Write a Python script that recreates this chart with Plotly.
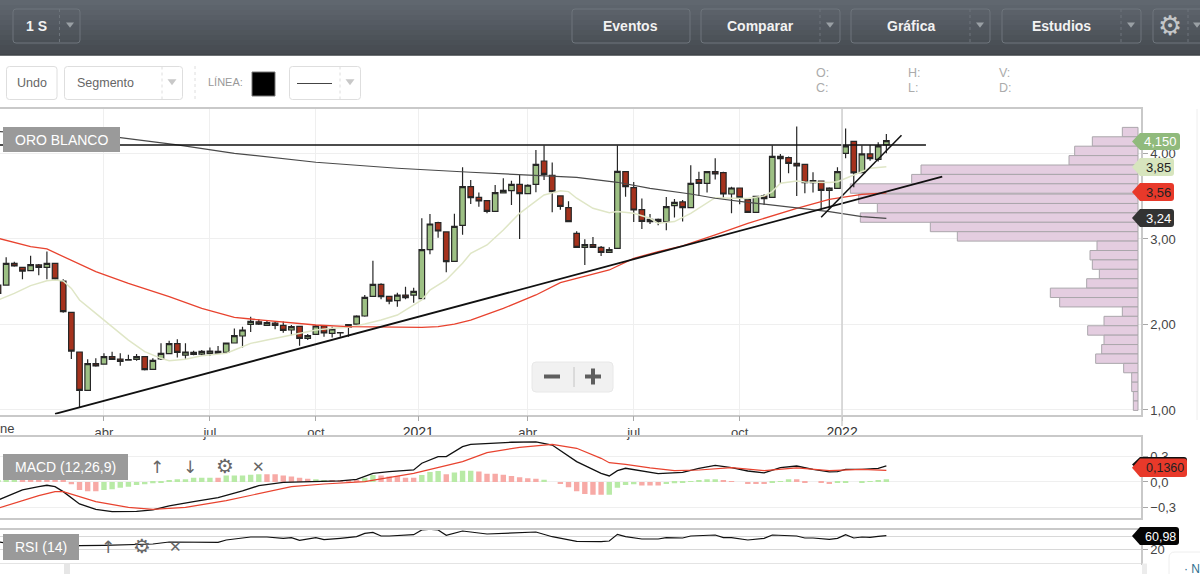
import pandas as pd
import plotly.graph_objects as go

W, H = 1200, 574

# weekly candles
opens = [2.461, 2.461, 2.715, 2.668, 2.629, 2.696, 2.668, 2.715, 2.508, 2.142,
         1.678, 1.229, 1.541, 1.537, 1.623, 1.596, 1.588, 1.592, 1.623, 1.475,
         1.596, 1.658, 1.775, 1.642, 1.674, 1.654, 1.658, 1.685, 1.674, 1.783,
         1.865, 2.001, 2.032, 1.99, 2.017, 1.99, 1.935, 1.978, 1.838, 1.884,
         1.982, 1.896, 1.904, 1.966, 2.005, 2.099, 2.329, 2.469, 2.329, 2.278,
         2.344, 2.344, 2.302, 2.875, 3.191, 3.082, 2.738, 3.16, 3.612, 3.487,
         3.448, 3.323, 3.538, 3.565, 3.639, 3.53, 3.639, 3.912, 3.745, 3.503,
         3.366, 3.066, 2.902, 2.933, 2.902, 2.844, 2.89, 3.787, 3.6, 3.343,
         3.203, 3.23, 3.203, 3.39, 3.433, 3.366, 3.694, 3.651, 3.787, 3.776,
         3.526, 3.596, 3.46, 3.312, 3.503, 3.487, 3.967, 3.951, 3.885, 3.873,
         3.659, 3.678, 3.569, 3.592, 4.002, 4.142, 3.776, 3.994, 3.932, 4.1]
highs = [2.52, 2.785, 2.734, 2.676, 2.805, 2.707, 2.852, 2.715, 2.528, 2.142,
         1.682, 1.592, 1.604, 1.662, 1.682, 1.662, 1.646, 1.654, 1.631, 1.604,
         1.779, 1.81, 1.826, 1.779, 1.693, 1.701, 1.732, 1.748, 1.787, 1.954,
         1.974, 2.091, 2.06, 2.04, 2.032, 2.036, 1.994, 1.986, 1.888, 1.994,
         1.994, 1.974, 1.912, 2.005, 2.107, 2.344, 2.746, 2.481, 2.337, 2.372,
         2.442, 2.43, 3.242, 3.292, 3.202, 3.086, 3.296, 3.838, 3.69, 3.542,
         3.456, 3.632, 3.71, 3.682, 3.748, 3.639, 4.041, 4.092, 3.893, 3.507,
         3.44, 3.089, 2.996, 3.023, 2.918, 2.902, 4.092, 3.791, 3.667, 3.472,
         3.292, 3.238, 3.491, 3.468, 3.456, 3.862, 3.787, 3.787, 3.944, 3.787,
         3.612, 3.6, 3.472, 3.503, 3.522, 4.092, 3.994, 3.963, 4.314, 3.873,
         3.78, 3.682, 3.604, 3.838, 4.291, 4.146, 4.092, 4.1, 4.131, 4.228]
lows = [2.306, 2.461, 2.676, 2.528, 2.629, 2.575, 2.528, 2.508, 2.138, 1.596,
        1.03, 1.229, 1.506, 1.533, 1.592, 1.518, 1.576, 1.576, 1.463, 1.471,
        1.584, 1.654, 1.615, 1.6, 1.639, 1.635, 1.631, 1.654, 1.67, 1.779,
        1.732, 1.912, 1.994, 1.986, 1.943, 1.904, 1.873, 1.752, 1.818, 1.876,
        1.857, 1.849, 1.857, 1.857, 1.997, 2.091, 2.325, 2.294, 2.235, 2.208,
        2.294, 2.255, 2.302, 2.82, 3.015, 2.61, 2.735, 3.05, 3.409, 3.378,
        3.3, 3.32, 3.534, 3.398, 3.0, 3.526, 3.546, 3.69, 3.312, 3.343,
        3.2, 2.898, 2.696, 2.898, 2.801, 2.84, 2.887, 3.495, 3.199, 3.117,
        3.175, 3.16, 3.101, 3.25, 3.203, 3.362, 3.503, 3.542, 3.694, 3.483,
        3.3, 3.405, 3.304, 3.308, 3.398, 3.483, 3.651, 3.768, 3.503, 3.534,
        3.542, 3.339, 3.347, 3.589, 3.943, 3.604, 3.768, 3.916, 3.905, 4.002]
closes = [2.364, 2.715, 2.684, 2.625, 2.7, 2.668, 2.715, 2.532, 2.15, 1.689,
          1.229, 1.541, 1.514, 1.623, 1.592, 1.568, 1.584, 1.623, 1.471, 1.58,
          1.662, 1.775, 1.674, 1.678, 1.65, 1.685, 1.689, 1.662, 1.783, 1.869,
          1.935, 2.036, 2.005, 2.021, 1.99, 1.931, 1.974, 1.838, 1.869, 1.982,
          1.9, 1.947, 1.9, 1.997, 2.099, 2.317, 2.469, 2.325, 2.274, 2.344,
          2.313, 2.387, 2.875, 3.175, 3.093, 2.735, 3.148, 3.612, 3.483, 3.444,
          3.323, 3.542, 3.569, 3.639, 3.53, 3.628, 3.873, 3.756, 3.554, 3.382,
          3.203, 2.902, 2.933, 2.902, 2.844, 2.875, 3.791, 3.612, 3.339, 3.206,
          3.23, 3.203, 3.378, 3.429, 3.366, 3.651, 3.651, 3.787, 3.76, 3.526,
          3.596, 3.483, 3.312, 3.499, 3.472, 3.967, 3.94, 3.885, 3.854, 3.659,
          3.682, 3.569, 3.596, 3.788, 4.088, 3.772, 3.994, 3.94, 4.088, 4.15]

weeks = pd.date_range("2020-01-01", periods=len(closes), freq="7D")

# moving averages (week number, value)
pale_wk = [0, 2, 4, 6, 7, 8, 9, 10, 12, 14, 16, 18, 20, 21, 23, 25, 28, 29, 31, 33,
           35, 37, 39, 41, 43, 45, 47, 49, 51, 52, 53, 55, 57, 58, 60, 62, 64, 66,
           67, 69, 70, 71, 73, 75, 76, 78, 80, 81, 83, 85, 87, 88, 90, 92, 94, 95,
           96, 98, 99, 100, 102, 103, 105, 107, 109]
pale_val = [2.286, 2.364, 2.454, 2.512, 2.52, 2.508, 2.422, 2.286, 2.13, 1.974, 1.818,
            1.682, 1.604, 1.576, 1.592, 1.635, 1.662, 1.701, 1.779, 1.818, 1.857,
            1.896, 1.935, 1.955, 1.966, 2.005, 2.052, 2.11, 2.228, 2.286, 2.403, 2.52,
            2.715, 2.832, 2.93, 3.105, 3.3, 3.437, 3.515, 3.565, 3.554, 3.476, 3.359,
            3.308, 3.32, 3.3, 3.242, 3.183, 3.203, 3.3, 3.417, 3.483, 3.476, 3.472,
            3.503, 3.554, 3.651, 3.678, 3.667, 3.667, 3.659, 3.67, 3.748, 3.826, 3.846]
red_wk = [0, 2, 4, 6, 8, 12, 16, 21, 25, 29, 31, 35, 39, 43, 49, 52, 54, 56, 58, 62,
          66, 69, 75, 78, 81, 84, 88, 92, 98, 102, 106, 109]
red_val = [3.008, 2.957, 2.91, 2.883, 2.793, 2.617, 2.48, 2.325, 2.188, 2.083, 2.064,
           2.025, 1.994, 1.974, 1.97, 1.966, 1.974, 2.005, 2.052, 2.188, 2.345, 2.489,
           2.637, 2.774, 2.852, 2.918, 3.047, 3.183, 3.359, 3.464, 3.522, 3.54]
dark_wk = [0, 15, 22, 29, 39, 49, 58, 65, 71, 76, 80, 85, 88, 92, 98, 102, 106, 109]
dark_val = [4.256, 4.185, 4.1, 4.002, 3.897, 3.827, 3.78, 3.748, 3.721, 3.663, 3.592,
            3.526, 3.476, 3.429, 3.366, 3.32, 3.261, 3.241]

# drawn trend lines
resist_dates = ["2020-01-01", "2022-03-08"]
resist_vals = [4.10, 4.10]
long_dates = ["2020-02-19", "2022-03-22"]
long_vals = [0.953, 3.729]
steep_dates = ["2021-12-08", "2022-02-15"]
steep_vals = [3.254, 4.213]

# volume by price
vol_price = [4.25, 4.14, 4.03, 3.92, 3.81, 3.70, 3.59, 3.47, 3.36, 3.25, 3.14, 3.03, 2.92, 2.81, 2.70,
             2.59, 2.48, 2.37, 2.26, 2.15, 2.04, 1.93, 1.82, 1.71, 1.60, 1.49, 1.38, 1.27, 1.16, 1.05]
vol_size = [47, 137, 190, 207, 651, 679, 863, 838, 782, 833, 623, 542, 123, 144, 137,
            116, 154, 263, 235, 47, 102, 151, 102, 109, 127, 43, 19, 19, 14, 14]

# MACD
macd_wk = [0, 2, 3, 5, 6, 7, 8, 10, 12, 14, 17, 19, 21, 24, 27, 30, 32, 35, 38, 42,
           44, 46, 48, 51, 52, 54, 55, 57, 58, 63, 66, 68, 71, 74, 75, 76, 77, 79, 81, 84,
           86, 88, 90, 92, 94, 96, 98, 100, 102, 103, 104, 106, 108, 109]
macd_val = [-.212, -.133, -.094, -.055, -.039, -.055, -.114, -.259, -.322, -.349, -.345,
            -.329, -.282, -.231, -.184, -.106, -.043, -.004, .004, .012, .031, .102, .122,
            .141, .22, .298, .298, .416, .443, .467, .471, .435, .239, .102, .071, .133,
            .161, .133, .098, .114, .161, .196, .169, .129, .106, .169, .188, .149, .118,
            .122, .149, .149, .161, .188]
signal_wk = [0, 3, 5, 7, 8, 12, 16, 19, 23, 28, 33, 36, 40, 45, 51, 57, 60, 64, 68, 71, 74,
             75, 77, 80, 83, 86, 90, 94, 98, 102, 106, 109]
signal_val = [-.31, -.224, -.161, -.114, -.114, -.231, -.298, -.322, -.298, -.22, -.114, -.055,
              -.024, .004, .102, .239, .345, .408, .443, .396, .278, .227, .208, .165, .133,
              .141, .169, .133, .165, .133, .149, .136]
hist_val = [.02, .024, .024, .024, .024, .024, .024, .024, .024, -.027, -.094, -.11, -.11,
            -.094, -.086, -.067, -.055, -.035, -.027, -.016, -.008, .012, .031, .031, .051,
            .051, .051, .051, .075, .075, .075, .086, .09, .09, .09, .075, .063, .051, .039,
            .031, .012, .012, .012, .016, .024, .051, .082, .075, .063, .071, .051, .051, .082,
            .118, .129, .09, .11, .133, .133, .122, .098, .098, .086, .071, .055, .043, .039,
            .027, 0, -.024, -.063, -.11, -.141, -.149, -.149, -.149, -.067, -.035, -.027, -.043,
            -.043, -.043, -.024, -.016, -.012, .008, .016, .031, .031, .016, .004, 0, -.024,
            -.024, -.024, -.008, .008, .031, .031, -.008, 0, -.008, -.024, -.008, -.008, 0,
            -.008, .004, .016, .031]
hist_dir = ("GGG" + "R" * 10 + "G" * 14 + "R" + "G" * 5 + "R" * 6 + "GG" + "R" * 4 + "GG" + "R" * 5
            + "GGG" + "R" + "GGG" + "R" * 8 + "G" + "R" * 7 + "G" * 4 + "R" * 3 + "G" * 7 + "RR" + "G"
            + "R" * 3 + "GGG" + "RR" + "G" + "RR" + "G" * 7)

# RSI
rsi_wk = [0, 4, 8, 10, 13, 16, 19, 21, 27, 28, 31, 33, 35, 36, 37, 39, 40, 42, 44, 45, 46, 47,
          48, 51, 52, 53, 54, 55, 57, 60, 63, 66, 68, 71, 74, 75, 76, 77, 79, 81, 82, 84, 85,
          88, 89, 90, 92, 94, 95, 98, 99, 100, 102, 103, 104, 105, 106, 107, 108, 109]
rsi_val = [43, 28, 20.5, 31.4, 32.4, 33.4, 36.4, 42.3, 41.3, 48.2, 57.1, 57.1, 53.2, 55.2, 47.2,
           55.2, 49.2, 53.2, 58.1, 68, 71, 60.1, 60.1, 64.1, 78, 80, 78, 62, 74.9, 66, 69,
           72, 58, 44.3, 43.3, 45.3, 65, 58.1, 51.2, 51.2, 55.2, 54.2, 60.1, 63, 55.2, 55.2,
           48.2, 53.2, 63, 60.1, 54.2, 54.2, 50.2, 53.2, 64, 54.2, 57.1, 56.2, 59.1, 61]

# tick positions of the date axis
tick_dates = ["2020-04-01", "2020-07-01", "2020-09-30", "2020-12-27",
              "2021-03-31", "2021-06-30", "2021-09-29", "2021-12-26"]
tick_text = ["abr", "jul", "oct", "<span style='font-size:14px;color:#333'>2021</span>",
             "abr", "jul", "oct", "<span style='font-size:14px;color:#333'>2022</span>"]

GREEN = "#9dc084"
RED = "#a5321d"
PANEL_LINE = "#c9c9c9"
GRID = "#efefef"
FONT = "Liberation Sans"
x_range = ["2020-01-02 17:00", "2022-09-08 17:00"]


def px(x):
    return x / W


def py(y):
    return 1 - y / H


def wk(idx):
    return [weeks[i] for i in idx]


shapes = []
notes = []


def rect(x0, y0, x1, y1, fill=None, line=None, width=1, dash=None):
    shapes.append(dict(type="rect", xref="paper", yref="paper", x0=px(x0), x1=px(x1), y0=py(y0), y1=py(y1),
                       fillcolor=fill or "rgba(0,0,0,0)",
                       line=dict(color=line or "rgba(0,0,0,0)", width=width if line else 0, dash=dash)))


def vline(x, y0, y1, color, width=1, dash=None):
    shapes.append(dict(type="line", xref="paper", yref="paper", x0=px(x), x1=px(x), y0=py(y0), y1=py(y1),
                       line=dict(color=color, width=width, dash=dash)))


def rounded(x0, y0, x1, y1, r=3, fill=None, line=None, width=1):
    p = (f"M{px(x0 + r)},{py(y0)} L{px(x1 - r)},{py(y0)} Q{px(x1)},{py(y0)} {px(x1)},{py(y0 + r)} "
         f"L{px(x1)},{py(y1 - r)} Q{px(x1)},{py(y1)} {px(x1 - r)},{py(y1)} L{px(x0 + r)},{py(y1)} "
         f"Q{px(x0)},{py(y1)} {px(x0)},{py(y1 - r)} L{px(x0)},{py(y0 + r)} Q{px(x0)},{py(y0)} {px(x0 + r)},{py(y0)} Z")
    shapes.append(dict(type="path", xref="paper", yref="paper", path=p,
                       fillcolor=fill or "rgba(0,0,0,0)",
                       line=dict(color=line or "rgba(0,0,0,0)", width=width if line else 0)))


def text(x, y, s, size=12, color="#444", anchor="center", bold=False, family=FONT):
    notes.append(dict(xref="paper", yref="paper", x=px(x), y=py(y), text=f"<b>{s}</b>" if bold else s,
                      showarrow=False, xanchor=anchor, yanchor="middle", borderpad=0, borderwidth=0,
                      font=dict(size=size, color=color, family=family)))


def caret(x, y, color, size=4):
    p = f"M{px(x - size)},{py(y - size * 0.6)} L{px(x + size)},{py(y - size * 0.6)} L{px(x)},{py(y + size * 0.7)} Z"
    shapes.append(dict(type="path", xref="paper", yref="paper", path=p, fillcolor=color, line=dict(width=0)))


def tag(x1, y0, y1, fill, label, color, size=13):
    x0 = 1132
    mid = (y0 + y1) / 2
    p = (f"M{px(x0)},{py(mid)} L{px(x0 + 8)},{py(y0)} L{px(x1 - 3)},{py(y0)} Q{px(x1)},{py(y0)} {px(x1)},{py(y0 + 3)} "
         f"L{px(x1)},{py(y1 - 3)} Q{px(x1)},{py(y1)} {px(x1 - 3)},{py(y1)} L{px(x0 + 8)},{py(y1)} Z")
    shapes.append(dict(type="path", xref="paper", yref="paper", path=p, fillcolor=fill, line=dict(width=0)))
    if label:
        text(x1 - 3, mid + 0.5, label, size=size, color=color, anchor="right")


fig = go.Figure()

# volume profile sits under everything else on the main panel
fig.add_trace(go.Bar(y=vol_price, x=vol_size, orientation="h", width=0.11, xaxis="x", yaxis="y",
                     marker=dict(color="#e4cde0", line=dict(color="#aaa6ab", width=1)), showlegend=False))

fig.add_trace(go.Candlestick(x=weeks, open=opens, high=highs, low=lows, close=closes, xaxis="x2", yaxis="y",
                             increasing=dict(fillcolor=GREEN, line=dict(color="#262626", width=1.2)),
                             decreasing=dict(fillcolor=RED, line=dict(color="#262626", width=1.2)),
                             whiskerwidth=0, showlegend=False))

fig.add_trace(go.Scatter(x=wk(pale_wk), y=pale_val, mode="lines", xaxis="x2", yaxis="y",
                         line=dict(color="#dfe6c6", width=1.5), showlegend=False))
fig.add_trace(go.Scatter(x=wk(red_wk), y=red_val, mode="lines", xaxis="x2", yaxis="y",
                         line=dict(color="#e8432f", width=1.3), showlegend=False))
fig.add_trace(go.Scatter(x=wk(dark_wk), y=dark_val, mode="lines", xaxis="x2", yaxis="y",
                         line=dict(color="#4a4a4a", width=1.2), showlegend=False))
for dates, vals, lw in [(resist_dates, resist_vals, 1.5), (long_dates, long_vals, 1.8), (steep_dates, steep_vals, 1.5)]:
    fig.add_trace(go.Scatter(x=dates, y=vals, mode="lines", xaxis="x2", yaxis="y",
                             line=dict(color="#111111", width=lw), showlegend=False))

hist_colors = ["#b8eaa6" if d == "G" else "#f7aaa6" for d in hist_dir]
fig.add_trace(go.Bar(x=weeks, y=hist_val, width=4.0e8, xaxis="x3", yaxis="y3",
                     marker=dict(color=hist_colors, line=dict(width=0)), showlegend=False))
fig.add_trace(go.Scatter(x=wk(macd_wk), y=macd_val, mode="lines", xaxis="x3", yaxis="y3",
                         line=dict(color="#111111", width=1.3), showlegend=False))
fig.add_trace(go.Scatter(x=wk(signal_wk), y=signal_val, mode="lines", xaxis="x3", yaxis="y3",
                         line=dict(color="#e8432f", width=1.2), showlegend=False))
fig.add_trace(go.Scatter(x=wk(rsi_wk), y=rsi_val, mode="lines", xaxis="x4", yaxis="y4",
                         line=dict(color="#111111", width=1.2), showlegend=False))

# header bar, gradient made of thin strips
top = (0x60, 0x67, 0x6f)
bottom = (0x45, 0x4a, 0x50)
for i in range(11):
    t = i / 10
    c = tuple(round(top[k] + (bottom[k] - top[k]) * t) for k in range(3))
    rect(0, i * 5, W, (i + 1) * 5 + 0.5, fill=f"rgb{c}")
rect(0, 54.5, W, 55.5, fill="#3a3e43")

BTN = "#6e757c"
HEAD = dict(size=14, color="#f2f2f2", bold=True)
rounded(13, 9, 80, 43, line=BTN)
vline(59.5, 9, 43, BTN, dash="dot")
text(36, 26, "1 S", **HEAD)
caret(70, 25, "#9aa0a5")
rounded(572, 9, 690, 43, line=BTN)
text(630, 26, "Eventos", **HEAD)
for x0, x1, div, mid, label in [(701, 840, 820, 760, "Comparar"), (851, 990, 970, 911, "Gráfica"),
                                (1002, 1141, 1121, 1061, "Estudios")]:
    rounded(x0, 9, x1, 43, line=BTN)
    vline(div, 9, 43, BTN, dash="dot")
    text(mid, 26, label, **HEAD)
    caret((div + x1) / 2, 25, "#9aa0a5")
rounded(1153, 9, 1215, 43, line=BTN)
vline(1188, 9, 43, BTN, dash="dot")
text(1170, 26, "⚙", size=27, color="#c4c6c8", family="DejaVu Sans")
caret(1197, 25, "#9aa0a5")

# drawing toolbar
TB = "#dedede"
rounded(6.5, 66.5, 57, 99.5, line=TB)
text(31.5, 83, "Undo", size=12.5, color="#666")
rounded(64.5, 66.5, 182.5, 99.5, line=TB)
vline(162, 66.5, 99.5, TB, dash="dot")
text(77, 83, "Segmento", size=12.5, color="#666", anchor="left")
caret(172, 82, "#c8c8c8", size=4.5)
vline(195, 66, 102, TB, dash="dot")
text(208, 82, "LÍNEA:", size=11, color="#999", anchor="left")
rect(252, 72, 275, 96, fill="#000000", line="#777777")
rounded(289.5, 66.5, 360.5, 99.5, line=TB)
vline(340, 66.5, 99.5, TB, dash="dot")
shapes.append(dict(type="line", xref="paper", yref="paper", x0=px(297), x1=px(332), y0=py(83.5), y1=py(83.5),
                   line=dict(color="#444", width=1)))
caret(350, 82, "#c8c8c8", size=4.5)
for x, y, s in [(816, 73, "O:"), (816, 88, "C:"), (908, 73, "H:"), (908, 88, "L:"), (999, 73, "V:"), (999, 88, "D:")]:
    text(x, y, s, size=12.5, color="#ababab", anchor="left")

# vertical marker at the start of 2022 and the page edge
vline(842, 109, 426, "#cfcfcf", width=1.5)
vline(1197, 109, 420, "#eeeeee", width=1)

text(0, 428, "ne", size=13, color="#444", anchor="left")

# zoom widget
rounded(532, 362, 613, 392, r=4, fill="#f1f1f1", line="#e8e8e8")
vline(574, 367, 387, "#c4c4c4")
rect(544, 374.5, 560, 378.5, fill="#5e5e5e")
rect(585, 374.5, 601, 378.5, fill="#5e5e5e")
rect(591, 368.5, 595, 384.5, fill="#5e5e5e")

# panel captions and their icons
rect(3, 127, 120, 152, fill="#9a9a9a")
text(61, 139.5, "ORO BLANCO", size=14, color="#ffffff")
rect(3, 454, 128, 480, fill="#9a9a9a")
text(65.5, 467, "MACD (12,26,9)", size=14, color="#ffffff")
rect(3, 534, 79, 560, fill="#9a9a9a")
text(41, 547, "RSI (14)", size=14, color="#ffffff")
ICON = "#666666"
text(157, 467, "↑", size=17, color=ICON, family="DejaVu Sans")
text(190, 467, "↓", size=17, color=ICON, family="DejaVu Sans")
text(225, 466, "⚙", size=20, color=ICON, family="DejaVu Sans")
text(258, 467, "✕", size=15, color=ICON, family="DejaVu Sans", bold=True)
text(108, 547, "↑", size=17, color=ICON, family="DejaVu Sans")
text(142, 546, "⚙", size=20, color=ICON, family="DejaVu Sans")
text(175, 547, "✕", size=15, color=ICON, family="DejaVu Sans", bold=True)

# price tags on the right
tag(1180, 133, 150, "#90ba7c", "4,150", "#ffffff")
tag(1174, 158, 176, "#d7e5be", "3,85", "#222222")
tag(1174, 183, 201, "#e8392a", "3,56", "#222222")
tag(1174, 209, 227, "#333333", "3,24", "#ffffff")
tag(1187, 457, 472, "#111111", "", "#ffffff")
tag(1187, 458.5, 477, "#e8392a", "0,1360", "#222222", size=12.5)
tag(1179, 527, 545, "#050505", "60,98", "#ffffff", size=12.5)

# bottom page scraps
rect(0, 563.5, 1141, 574, fill="#ffffff")
rect(64, 563.5, 70, 574, fill="#e6e6e6")
rect(1142, 563.5, 1147, 574, fill="#ececec")
rounded(1169, 552, 1215, 590, r=6, fill="#ffffff", line="#eeeeee")
text(1192, 569, "· N", size=12, color="#2f6f8f")

fig.update_layout(
    template="none",
    width=W, height=H, autosize=False, margin=dict(l=0, r=0, t=0, b=0, pad=0),
    paper_bgcolor="#ffffff", plot_bgcolor="rgba(0,0,0,0)", separators=",.",
    showlegend=False, hovermode=False, shapes=shapes, annotations=notes,
    boxgap=0.15, boxgroupgap=0.2,
    font=dict(family=FONT, size=13, color="#444444"),
    xaxis=dict(domain=[0, 1141 / W], range=[3414, -9], visible=False, anchor="y", fixedrange=True, automargin=False),
    xaxis2=dict(overlaying="x", anchor="y", domain=[0, 1141 / W], range=x_range, type="date", automargin=False,
                rangeslider=dict(visible=False), tickmode="array", tickvals=tick_dates, ticktext=tick_text,
                ticks="outside", ticklen=5, tickcolor="#a8a8a8", showgrid=True, gridcolor=GRID, gridwidth=1,
                tickfont=dict(size=13, color="#444444"), tickangle=0, showline=True, linecolor=PANEL_LINE,
                linewidth=1.5, mirror=True, zeroline=False),
    yaxis=dict(domain=[py(414.5), py(109)], range=[0.947, 4.52], anchor="x", side="right", automargin=False,
               tickmode="array", tickvals=[1, 2, 3, 4], tickformat=".2f", ticks="outside", ticklen=5,
               tickcolor="#a8a8a8", showgrid=True, gridcolor=GRID, showline=True, linecolor=PANEL_LINE,
               linewidth=1.5, zeroline=False, tickfont=dict(size=13, color="#444444")),
    xaxis3=dict(domain=[0, 1141 / W], range=x_range, type="date", anchor="y3", showticklabels=False, automargin=False,
                ticks="", showgrid=False, zeroline=False, showline=True, linecolor=PANEL_LINE, linewidth=1.5,
                mirror=True),
    yaxis3=dict(domain=[py(517.5), py(437)], range=[-0.418, 0.529], anchor="x3", side="right", automargin=False,
                tickmode="array", tickvals=[-0.3, 0, 0.3], tickformat=".1f", ticks="outside", ticklen=5,
                tickcolor="#a8a8a8", showgrid=True, gridcolor=GRID, zeroline=False, showline=True,
                linecolor=PANEL_LINE, linewidth=1.5, tickfont=dict(size=13, color="#444444")),
    xaxis4=dict(domain=[0, 1141 / W], range=x_range, type="date", anchor="y4", showticklabels=False, automargin=False,
                ticks="", showgrid=False, zeroline=False, showline=True, linecolor=PANEL_LINE, linewidth=1.5,
                mirror=True),
    yaxis4=dict(domain=[py(563), py(530)], range=[-20, 77.9], anchor="x4", side="right", automargin=False,
                tickmode="array", tickvals=[20, 60], ticks="outside", ticklen=5,
                tickcolor="#a8a8a8", showgrid=True, gridcolor="#d8d8d8", zeroline=False, showline=True,
                linecolor=PANEL_LINE, linewidth=1.5, tickfont=dict(size=13, color="#444444")),
)

fig.write_html("out.html", config={"displayModeBar": False},
               post_script="document.body.style.margin='0';document.body.style.overflow='hidden';")
